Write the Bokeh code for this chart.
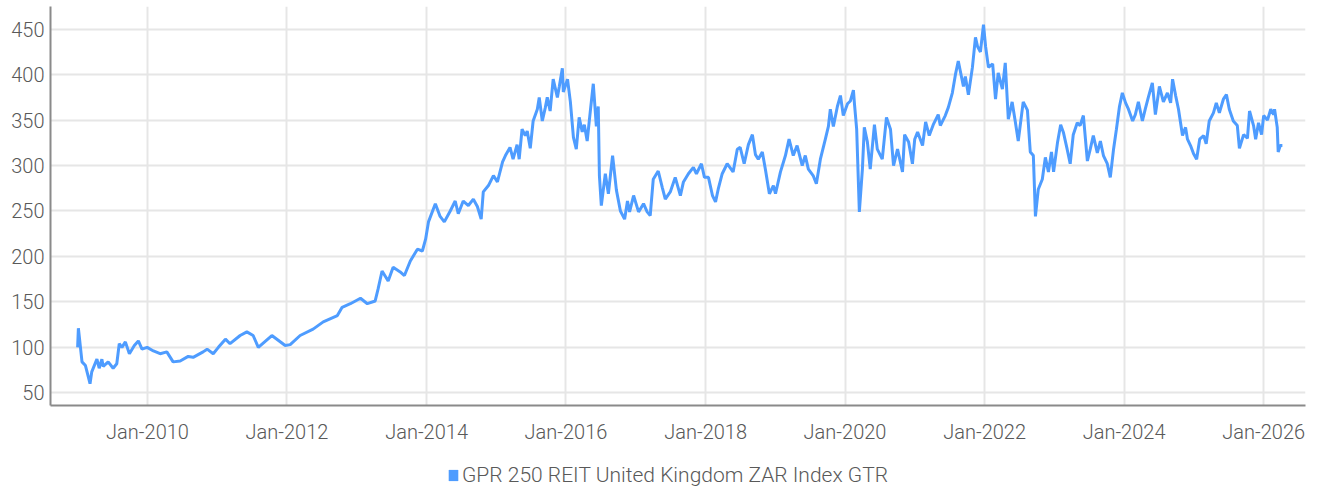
import pandas as pd
from bokeh.plotting import figure
from bokeh.layouts import column
from bokeh.models import (Range1d, FixedTicker, DatetimeTickFormatter, Legend, LegendItem,
                          ColumnDataSource)
from bokeh.embed import file_html
from bokeh.resources import INLINE

series_name = "GPR 250 REIT United Kingdom ZAR Index GTR"

dates = [
    "2008-12-31", "2009-01-04", "2009-01-23", "2009-02-10", "2009-03-06", "2009-03-15", "2009-04-11",
    "2009-04-23", "2009-05-07", "2009-05-14", "2009-06-09", "2009-07-05", "2009-07-24", "2009-08-06",
    "2009-08-20", "2009-09-07", "2009-09-28", "2009-10-24", "2009-11-14", "2009-12-03", "2009-12-30",
    "2010-02-01", "2010-03-08", "2010-04-12", "2010-05-15", "2010-06-21", "2010-08-02", "2010-08-28",
    "2010-10-19", "2010-11-09", "2010-12-11", "2011-01-07", "2011-02-13", "2011-03-09", "2011-05-01",
    "2011-06-05", "2011-07-08", "2011-08-04", "2011-10-14", "2011-12-23", "2012-01-18", "2012-03-10",
    "2012-05-17", "2012-07-09", "2012-09-21", "2012-10-16", "2012-11-28", "2013-01-20", "2013-02-25",
    "2013-04-07", "2013-04-22", "2013-05-13", "2013-06-14", "2013-07-10", "2013-08-16", "2013-09-07",
    "2013-10-08", "2013-11-14", "2013-12-10", "2013-12-27", "2014-01-11", "2014-02-16", "2014-03-13",
    "2014-04-04", "2014-05-05", "2014-05-31", "2014-06-16", "2014-07-12", "2014-08-08", "2014-09-03",
    "2014-09-24", "2014-10-14", "2014-10-25", "2014-11-21", "2014-12-17", "2015-01-07", "2015-02-03",
    "2015-02-18", "2015-03-14", "2015-03-30", "2015-04-20", "2015-05-01", "2015-05-16", "2015-06-02",
    "2015-06-12", "2015-06-28", "2015-07-13", "2015-08-04", "2015-08-14", "2015-08-30", "2015-09-15",
    "2015-09-25", "2015-10-10", "2015-10-26", "2015-11-17", "2015-11-27", "2015-12-13", "2015-12-18",
    "2016-01-09", "2016-01-24", "2016-02-09", "2016-02-24", "2016-03-10", "2016-03-26", "2016-04-06",
    "2016-04-21", "2016-05-07", "2016-05-23", "2016-06-08", "2016-06-18", "2016-06-24", "2016-07-04",
    "2016-07-25", "2016-08-10", "2016-09-01", "2016-09-21", "2016-10-12", "2016-11-03", "2016-11-18",
    "2016-11-29", "2016-12-20", "2017-01-15", "2017-02-10", "2017-03-01", "2017-03-17", "2017-04-02",
    "2017-04-28", "2017-05-19", "2017-06-04", "2017-06-30", "2017-07-26", "2017-08-22", "2017-09-07",
    "2017-10-03", "2017-10-29", "2017-11-14", "2017-12-10", "2017-12-26", "2018-01-16", "2018-02-06",
    "2018-02-22", "2018-03-08", "2018-03-29", "2018-04-24", "2018-05-25", "2018-06-16", "2018-07-01",
    "2018-07-22", "2018-08-13", "2018-09-03", "2018-09-19", "2018-10-04", "2018-10-25", "2018-11-10",
    "2018-12-01", "2018-12-22", "2019-01-02", "2019-01-28", "2019-02-23", "2019-03-14", "2019-04-05",
    "2019-04-25", "2019-05-22", "2019-06-07", "2019-06-23", "2019-07-18", "2019-08-04", "2019-08-25",
    "2019-09-20", "2019-10-06", "2019-10-16", "2019-11-01", "2019-11-22", "2019-12-08", "2019-12-23",
    "2020-01-14", "2020-01-29", "2020-02-14", "2020-02-19", "2020-03-02", "2020-03-16", "2020-04-01",
    "2020-04-11", "2020-04-27", "2020-05-12", "2020-06-03", "2020-06-18", "2020-07-14", "2020-08-05",
    "2020-08-26", "2020-09-11", "2020-10-02", "2020-10-28", "2020-11-08", "2020-11-29", "2020-12-19",
    "2020-12-31", "2021-01-15", "2021-02-10", "2021-02-26", "2021-03-17", "2021-04-07", "2021-05-03",
    "2021-05-14", "2021-06-09", "2021-06-25", "2021-07-16", "2021-08-01", "2021-08-16", "2021-09-12",
    "2021-09-22", "2021-10-08", "2021-10-29", "2021-11-14", "2021-11-25", "2021-12-10", "2021-12-26",
    "2022-01-06", "2022-01-21", "2022-02-12", "2022-02-27", "2022-03-13", "2022-04-04", "2022-04-19",
    "2022-05-05", "2022-05-25", "2022-06-10", "2022-06-26", "2022-07-22", "2022-08-13", "2022-08-28",
    "2022-09-13", "2022-09-24", "2022-10-09", "2022-10-30", "2022-11-15", "2022-12-01", "2022-12-17",
    "2022-12-28", "2023-01-18", "2023-02-03", "2023-02-18", "2023-03-09", "2023-03-25", "2023-04-10",
    "2023-05-01", "2023-05-16", "2023-06-02", "2023-06-23", "2023-07-08", "2023-07-24", "2023-08-14",
    "2023-08-30", "2023-09-15", "2023-10-05", "2023-10-21", "2023-11-07", "2023-11-22", "2023-12-08",
    "2023-12-23", "2024-01-09", "2024-01-24", "2024-02-15", "2024-02-29", "2024-03-16", "2024-04-06",
    "2024-04-21", "2024-05-07", "2024-05-28", "2024-06-13", "2024-07-04", "2024-07-25", "2024-08-15",
    "2024-09-01", "2024-09-11", "2024-09-27", "2024-10-12", "2024-11-02", "2024-11-18", "2024-11-28",
    "2024-12-14", "2024-12-30", "2025-01-15", "2025-01-31", "2025-02-21", "2025-03-06", "2025-03-22",
    "2025-04-13", "2025-04-28", "2025-05-14", "2025-06-04", "2025-06-20", "2025-07-05", "2025-07-26",
    "2025-08-16", "2025-08-27", "2025-09-18", "2025-10-08", "2025-10-19", "2025-11-09", "2025-11-20",
    "2025-12-05", "2025-12-21", "2026-01-01", "2026-01-21", "2026-02-07", "2026-02-22", "2026-02-27",
    "2026-03-13", "2026-03-18", "2026-03-29", "2026-04-09",
]

values = [
    100, 121, 84, 80, 60, 73, 87,
    77, 87, 79, 84, 77, 82, 104,
    100, 106, 93, 102, 107, 98, 100,
    96, 93, 95, 84, 85, 90, 89,
    95, 98, 93, 100, 109, 104, 113,
    117, 113, 100, 113, 102, 103, 113,
    120, 128, 135, 144, 148, 154, 148,
    151, 164, 184, 173, 188, 183, 179,
    195, 208, 206, 219, 238, 258, 244,
    238, 250, 261, 247, 261, 256, 263,
    255, 241, 271, 278, 289, 282, 304,
    311, 320, 307, 323, 307, 340, 333,
    338, 319, 349, 362, 375, 349, 364,
    375, 360, 395, 375, 387, 407, 381,
    395, 370, 331, 318, 353, 337, 345,
    327, 359, 390, 343, 365, 289, 256,
    291, 269, 311, 273, 250, 241, 261,
    249, 267, 249, 258, 249, 245, 285,
    294, 276, 263, 271, 287, 267, 282,
    291, 298, 291, 302, 287, 287, 267,
    260, 274, 291, 302, 293, 318, 320,
    302, 323, 334, 312, 307, 315, 296,
    269, 278, 269, 293, 311, 329, 311,
    322, 300, 311, 296, 289, 280, 307,
    329, 343, 362, 343, 365, 377, 355,
    368, 371, 383, 369, 340, 249, 296,
    342, 326, 296, 345, 318, 307, 353,
    340, 300, 318, 293, 334, 326, 302,
    329, 337, 322, 348, 333, 345, 356,
    344, 355, 364, 380, 400, 415, 387,
    398, 378, 408, 441, 431, 425, 455,
    431, 408, 412, 373, 402, 384, 413,
    351, 370, 349, 327, 370, 361, 315,
    311, 244, 274, 285, 309, 293, 315,
    293, 326, 345, 336, 318, 302, 334,
    347, 344, 355, 305, 318, 333, 314,
    327, 311, 302, 287, 318, 340, 365,
    380, 369, 362, 349, 356, 370, 349,
    362, 375, 391, 356, 387, 370, 380,
    369, 395, 377, 362, 333, 342, 329,
    322, 313, 307, 329, 333, 324, 349,
    358, 369, 358, 373, 378, 362, 349,
    344, 319, 334, 330, 360, 344, 329,
    347, 334, 355, 350, 362, 356, 362,
    342, 315, 322, 322,
]

x_tick_dates = ["2010-01-01", "2012-01-01", "2014-01-01", "2016-01-01", "2018-01-01",
                "2020-01-01", "2022-01-01", "2024-01-01", "2026-01-01"]
y_ticks = [50, 100, 150, 200, 250, 300, 350, 400, 450]

LINE = "#4e9cff"
FONT = "Roboto Light"
TXT = "#595959"

src = ColumnDataSource(dict(x=pd.to_datetime(dates), y=values))

p = figure(width=1311, height=451, x_axis_type="datetime", output_backend="svg",
           toolbar_location=None,
           x_range=Range1d(pd.Timestamp("2008-08-11"), pd.Timestamp("2026-08-08")),
           y_range=Range1d(36, 475),
           min_border_left=50, min_border_right=6, min_border_top=6, min_border_bottom=46)
p.outline_line_color = None
p.background_fill_color = "white"

p.line("x", "y", source=src, line_color=LINE, line_width=3)

tick_ms = [pd.Timestamp(d).value / 1e6 for d in x_tick_dates]
p.xaxis.ticker = FixedTicker(ticks=tick_ms)
p.xaxis.formatter = DatetimeTickFormatter(years="%b-%Y", months="%b-%Y", days="%b-%Y",
                                          hours="%b-%Y", minutes="%b-%Y", seconds="%b-%Y",
                                          milliseconds="%b-%Y", microseconds="%b-%Y")
p.yaxis.ticker = FixedTicker(ticks=y_ticks)

for ax in (p.xaxis, p.yaxis):
    ax.axis_line_color = "#8a8a8a"
    ax.axis_line_width = 2
    ax.major_tick_line_color = None
    ax.minor_tick_line_color = None
    ax.major_tick_out = 0
    ax.major_tick_in = 0
    ax.major_label_text_font = FONT
    ax.major_label_text_font_size = "20px"
    ax.major_label_text_color = TXT
p.xaxis.major_label_standoff = 14
p.yaxis.major_label_standoff = 6

p.xgrid.ticker = FixedTicker(ticks=tick_ms)
p.ygrid.ticker = FixedTicker(ticks=y_ticks)
for g in (p.xgrid, p.ygrid):
    g.grid_line_color = "#e6e6e6"
    g.grid_line_width = 2

# legend strip below the chart; the swatch renderer sits outside the strip's view
lg = figure(width=1311, height=36, output_backend="svg", toolbar_location=None,
            x_range=Range1d(0, 1), y_range=Range1d(0, 1),
            min_border_left=0, min_border_right=0, min_border_top=0, min_border_bottom=0)
lg.axis.visible = False
lg.grid.visible = False
lg.outline_line_color = None
sq = lg.quad(left=[5], right=[6], top=[6], bottom=[5], fill_color=LINE, line_color=None)
legend = Legend(items=[LegendItem(label=series_name, renderers=[sq])],
                location=(397, 0), orientation="horizontal",
                label_text_font=FONT, label_text_font_size="21px", label_text_color=TXT,
                glyph_width=12, glyph_height=14, label_standoff=3,
                border_line_color=None, background_fill_alpha=0,
                padding=0, margin=0)
lg.add_layout(legend, "center")

layout = column(p, lg, spacing=0)
open("out.html", "w").write(file_html(layout, INLINE))
